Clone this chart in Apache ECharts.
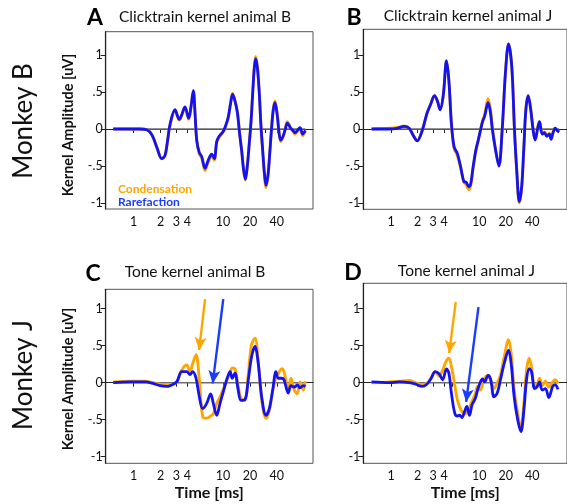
<!DOCTYPE html>
<html><head><meta charset="utf-8">
<script src="https://cdn.jsdelivr.net/npm/echarts@6/dist/echarts.min.js"></script>
<style>html,body{margin:0;padding:0;background:#fff}#c{width:567px;height:504px}</style>
</head><body><div id="c"></div><script>
// ---------- DATA (time in ms, amplitude in uV) ----------
const tA = [0.59,0.91,1.18,1.40,1.60,1.82,2.06,2.24,2.40,2.55,2.90,3.24,3.47,3.75,4.13,4.38,4.65,4.86,5.08,5.43,5.77,6.29,6.84,7.47,7.99,8.50,9.02,9.50,10.07,10.53,11.4,12.1,12.8,13.6,14.5,15.3,16.2,17.0,17.8,18.7,19.7,20.6,21.5,22.4,23.2,24.3,25.5,26.6,27.8,29.0,30.3,31.9,33.6,35.1,36.6,38.2,40.6,42.4,44.3,47.3,49.9,52.5,57.3,60.8,64.0,67.9,72.8,78.1,83.5];
const blueA = [0,0,0,-0.01,-0.08,-0.25,-0.40,-0.36,-0.15,0.06,0.26,0.13,0.20,0.30,0.145,0.30,0.52,0.22,-0.15,-0.32,-0.37,-0.53,-0.42,-0.34,-0.40,-0.17,-0.10,-0.07,-0.03,0.02,0.15,0.33,0.47,0.38,0.22,-0.05,-0.30,-0.55,-0.68,-0.50,-0.19,0.10,0.48,0.82,0.95,0.82,0.48,0.05,-0.28,-0.58,-0.76,-0.62,-0.28,0.03,0.26,0.355,0.17,-0.05,-0.15,-0.09,0.0,0.08,0.01,-0.02,-0.05,-0.02,0.02,-0.07,-0.02];
const orangeA = [0,0,0,-0.01,-0.08,-0.25,-0.40,-0.36,-0.15,0.05,0.25,0.12,0.19,0.29,0.13,0.29,0.50,0.22,-0.16,-0.34,-0.39,-0.56,-0.45,-0.37,-0.42,-0.19,-0.12,-0.08,-0.04,0.01,0.14,0.33,0.48,0.39,0.23,-0.04,-0.30,-0.55,-0.69,-0.52,-0.20,0.10,0.49,0.84,0.98,0.84,0.49,0.05,-0.29,-0.60,-0.79,-0.64,-0.29,0.04,0.28,0.38,0.20,-0.04,-0.17,-0.10,0.01,0.10,0.02,-0.03,-0.07,-0.03,0.01,-0.09,-0.03];

const tB = [0.60,0.96,1.17,1.41,1.60,1.77,1.98,2.24,2.55,2.80,3.11,3.35,3.59,3.91,4.25,4.52,4.83,5.18,5.64,6.15,6.69,7.10,7.60,8.0,8.43,9.1,9.75,10.9,11.5,12.6,13.4,14.1,15.3,16.7,18.2,19.8,21.5,23.4,25.1,26.6,28.5,30.3,32.1,33.8,35.9,38.4,40.8,43.0,46.4,48.3,51.8,55.0,58.4,62.5,65.2,68.8,72.8,76.5,80.7];
const blueB = [0,0,0.01,0.035,0.01,-0.08,-0.16,-0.03,0.21,0.33,0.45,0.38,0.26,0.46,0.92,0.66,0.08,-0.24,-0.33,-0.51,-0.71,-0.72,-0.78,-0.74,-0.55,-0.30,-0.15,0.10,0.17,0.355,0.22,-0.01,-0.28,-0.50,-0.01,0.75,1.15,0.84,-0.01,-0.55,-0.98,-0.78,-0.24,0.26,0.45,0.26,-0.01,-0.15,0.03,0.10,-0.07,-0.05,-0.10,-0.07,-0.14,-0.05,0.01,-0.02,-0.04];
const orangeB = [0,0.01,0.02,0.04,0.01,-0.08,-0.16,-0.03,0.21,0.33,0.45,0.38,0.26,0.46,0.92,0.66,0.06,-0.26,-0.36,-0.53,-0.72,-0.75,-0.82,-0.77,-0.57,-0.31,-0.15,0.11,0.19,0.41,0.27,0.02,-0.27,-0.50,-0.02,0.75,1.15,0.84,-0.01,-0.56,-1.0,-0.79,-0.24,0.26,0.45,0.27,0.0,-0.14,0.04,0.10,-0.06,-0.04,-0.09,-0.06,-0.13,-0.04,0.01,-0.02,-0.04];

const tC = [0.59,0.91,1.34,1.65,1.97,2.34,2.55,3.03,3.45,3.92,4.27,4.58,4.99,5.43,5.93,6.57,7.28,7.79,8.50,9.26,10.3,11.2,12.0,12.7,13.6,14.8,15.9,17.6,19.2,20.9,22.8,24.8,27.1,30.3,33.0,36.0,39.2,41.6,45.4,48.2,53.8,57.7,62.8,67.9,72.8,79.3,83.5];
const blueC = [0,0.01,0.01,-0.01,-0.04,-0.05,-0.04,0.01,0.15,0.15,0.11,0.15,0.06,-0.19,-0.35,-0.28,-0.15,-0.28,-0.44,-0.28,-0.08,0.07,0.15,0.06,0.13,-0.10,-0.24,-0.23,0.04,0.35,0.49,0.26,-0.19,-0.44,-0.35,-0.10,0.15,0.06,0.06,0.04,-0.14,-0.04,-0.06,-0.03,-0.07,-0.04,-0.05];
const orangeC = [0.01,0.02,0.02,0.0,-0.02,-0.03,-0.03,0.01,0.17,0.24,0.15,0.26,0.38,0.04,-0.46,-0.48,-0.45,-0.42,-0.28,-0.19,-0.06,0.05,0.14,0.20,0.19,-0.05,-0.21,-0.23,0.12,0.52,0.60,0.30,-0.23,-0.48,-0.38,-0.12,0.08,0.12,0.19,0.15,-0.10,0.06,-0.10,-0.15,0.01,-0.10,0.02];

const tD = [0.60,0.96,1.24,1.60,1.90,2.24,2.55,2.85,3.16,3.50,3.84,4.25,4.52,4.83,5.27,5.64,6.0,6.36,6.81,7.22,7.74,8.28,9.03,9.57,10.3,10.9,11.5,12.6,13.5,14.7,16.0,17.4,19.2,21.5,23.0,24.9,27.3,29.7,32.1,34.4,36.9,39.1,42.6,45.6,48.3,51.8,56.4,61.5,68.1,72.8,78.0];
const blueD = [0.01,0.0,0.01,0.0,-0.02,-0.05,-0.02,0.06,0.15,0.12,0.04,0.185,0.13,-0.14,-0.41,-0.45,-0.44,-0.47,-0.39,-0.32,-0.44,-0.30,-0.21,-0.10,0.01,0.05,0.01,0.10,0.04,-0.19,-0.14,0.04,0.26,0.44,0.26,-0.19,-0.50,-0.66,-0.37,0.04,0.19,0.15,-0.08,-0.05,0.01,-0.10,-0.08,-0.20,-0.05,-0.03,-0.09];
const orangeD = [0.0,0.01,0.02,0.03,0.0,-0.03,-0.01,0.07,0.15,0.09,0.17,0.30,0.33,0.22,-0.03,-0.23,-0.33,-0.39,-0.42,-0.40,-0.33,-0.25,-0.15,-0.05,-0.10,-0.02,0.06,0.10,0.02,-0.08,0.0,0.10,0.35,0.58,0.40,-0.10,-0.41,-0.62,-0.28,0.17,0.33,0.22,-0.05,-0.02,0.06,-0.04,0.02,-0.06,0.01,0.04,-0.01];

// arrows: [start, tip] as [time ms, amplitude uV]
const arrowOrangeC = [[6.3,1.13],[5.4,0.44]];
const arrowBlueC   = [[10.07,1.13],[7.67,-0.01]];
const arrowOrangeD = [[5.41,1.09],[4.56,0.40]];
const arrowBlueD   = [[9.8,1.02],[7.1,-0.26]];

const xTickValues  = [1,2,3,4,5,10,20,30,40,50];
const xLabelValues = [1,2,3,4,10,20,40];
const yTickValues  = [-1,-0.5,0,0.5,1];

const seriesNames = ['Condensation','Rarefaction'];
const titles = ['Clicktrain kernel animal B','Clicktrain kernel animal J','Tone kernel animal B','Tone kernel animal J'];
const letters = ['A','B','C','D'];
const rowLabels = ['Monkey B','Monkey J'];
const yAxisTitle = 'Kernel Amplitude [uV]';
const xAxisTitle = 'Time [ms]';

// ---------- LAYOUT ----------
const ORANGE = '#ffa500', BLUE = '#1212f2';
const FONT = 'Lato';
const panels = [
  {grid:{left:105.7, top:31.7, width:207.3, height:177.3}, x:[0.486,101.8], y:[-1.081,1.315], t:tA, b:blueA, o:orangeA},
  {grid:{left:363.3, top:29.3, width:208, height:180}, x:[0.4835,99], y:[-1.085,1.347], t:tB, b:blueB, o:orangeB},
  {grid:{left:105.7, top:289.3, width:207.3, height:174}, x:[0.486,101.8], y:[-1.089,1.262], t:tC, b:blueC, o:orangeC, arrows:[arrowOrangeC, arrowBlueC], xName:true},
  {grid:{left:363.3, top:283.3, width:208, height:180}, x:[0.4835,99], y:[-1.089,1.343], t:tD, b:blueD, o:orangeD, arrows:[arrowOrangeD, arrowBlueD], xName:true}
];

const zip = (t, v) => t.map((x, i) => [x, v[i]]);
const yFmt = v => v === 0 ? '0' : (v < 0 ? '-' : '') + String(Math.abs(v)).replace(/^0/, '');

const grids = [], xAxes = [], yAxes = [], series = [];
panels.forEach((p, i) => {
  grids.push(Object.assign({show:true, borderColor:'#555', borderWidth:1, containLabel:false}, p.grid));
  xAxes.push({
    type:'log', logBase:10, gridIndex:i, min:p.x[0], max:p.x[1],
    axisLine:{show:true, lineStyle:{color:'#222', width:1.2}},
    axisTick:{show:true, length:4, inside:false, customValues:xTickValues, lineStyle:{color:'#222', width:1}},
    axisLabel:{show:true, customValues:xLabelValues, margin:6, color:'#111', fontFamily:FONT, fontSize:12.5, formatter:v => String(Math.round(v))},
    splitLine:{show:false}, minorTick:{show:false},
    name: p.xName ? xAxisTitle : '', nameLocation:'middle', nameGap:22,
    nameTextStyle:{fontFamily:FONT, fontWeight:'bold', fontSize:16, color:'#111'}
  });
  yAxes.push({
    type:'value', gridIndex:i, min:p.y[0], max:p.y[1],
    axisLine:{show:true, lineStyle:{color:'#222', width:1.2}},
    axisTick:{show:true, length:5, customValues:yTickValues, lineStyle:{color:'#222'}},
    axisLabel:{show:true, customValues:yTickValues, margin:3, color:'#111', fontFamily:FONT, fontSize:12.5, formatter:yFmt},
    splitLine:{show:false}
  });
  const common = {type:'line', xAxisIndex:i, yAxisIndex:i, showSymbol:false, symbol:'none', smooth:0.35, animation:false, emphasis:{disabled:true}, silent:true};
  series.push(Object.assign({}, common, {
    name:'zero', data:[[p.t[0],0],[p.t[p.t.length-1],0]], smooth:false,
    lineStyle:{color:'#6e6e6e', width:1.4}, z:1
  }));
  const mk = (arr, color) => arr ? {
    silent:true, symbol:['none','arrow'], symbolSize:[9,13], animation:false,
    label:{show:false}, emphasis:{disabled:true},
    lineStyle:{color:color, width:2.4, type:'solid'},
    data:[[{coord:arr[0]},{coord:arr[1]}]]
  } : undefined;
  series.push(Object.assign({}, common, {
    name:seriesNames[0], data:zip(p.t, p.o), lineStyle:{color:ORANGE, width:2.9}, itemStyle:{color:ORANGE}, z:2,
    markLine: p.arrows ? mk(p.arrows[0], ORANGE) : undefined
  }));
  series.push(Object.assign({}, common, {
    name:seriesNames[1], data:zip(p.t, p.b), lineStyle:{color:BLUE, width:2.8}, itemStyle:{color:BLUE}, z:3,
    markLine: p.arrows ? mk(p.arrows[1], '#1a3cff') : undefined
  }));
});

const txt = (x, y, text, font, extra) => Object.assign({
  type:'text', x:x, y:y, silent:true,
  style:Object.assign({text:text, fill:'#111', textAlign:'center', textVerticalAlign:'middle'}, font)
}, extra || {});

const graphic = [
  txt(205, 17, titles[0], {fontFamily:FONT, fontSize:15.5}),
  txt(468, 16, titles[1], {fontFamily:FONT, fontSize:15.5}),
  txt(195, 272, titles[2], {fontFamily:FONT, fontSize:15.5}),
  txt(466.5, 271, titles[3], {fontFamily:FONT, fontSize:15.5}),
  txt(95, 18, letters[0], {fontFamily:FONT, fontSize:23, fontWeight:'bold', fill:'#000'}),
  txt(354, 18, letters[1], {fontFamily:FONT, fontSize:23, fontWeight:'bold', fill:'#000'}),
  txt(93, 274, letters[2], {fontFamily:FONT, fontSize:23, fontWeight:'bold', fill:'#000'}),
  txt(353, 273, letters[3], {fontFamily:FONT, fontSize:23, fontWeight:'bold', fill:'#000'}),
  txt(24, 121, rowLabels[0], {fontFamily:FONT, fontSize:26}, {rotation:Math.PI/2}),
  txt(24, 375, rowLabels[1], {fontFamily:FONT, fontSize:26}, {rotation:Math.PI/2}),
  txt(68, 125, yAxisTitle, {fontFamily:FONT, fontSize:14.5, fontWeight:'bold'}, {rotation:Math.PI/2}),
  txt(68, 379, yAxisTitle, {fontFamily:FONT, fontSize:14.5, fontWeight:'bold'}, {rotation:Math.PI/2})
];

const chart = echarts.init(document.getElementById('c'), null, {renderer:'canvas'});
chart.setOption({
  backgroundColor:'#fff',
  animation:false,
  grid:grids, xAxis:xAxes, yAxis:yAxes, series:series, graphic:graphic,
  legend:{
    show:true, orient:'vertical', left:107, top:178, itemGap:1, itemWidth:1, itemHeight:1, selectedMode:false,
    textStyle:{fontFamily:FONT, fontWeight:'bold', fontSize:12},
    data:[
      {name:seriesNames[0], icon:'none', textStyle:{color:ORANGE}},
      {name:seriesNames[1], icon:'none', textStyle:{color:'#1a3cff'}}
    ]
  }
});
</script></body></html>
